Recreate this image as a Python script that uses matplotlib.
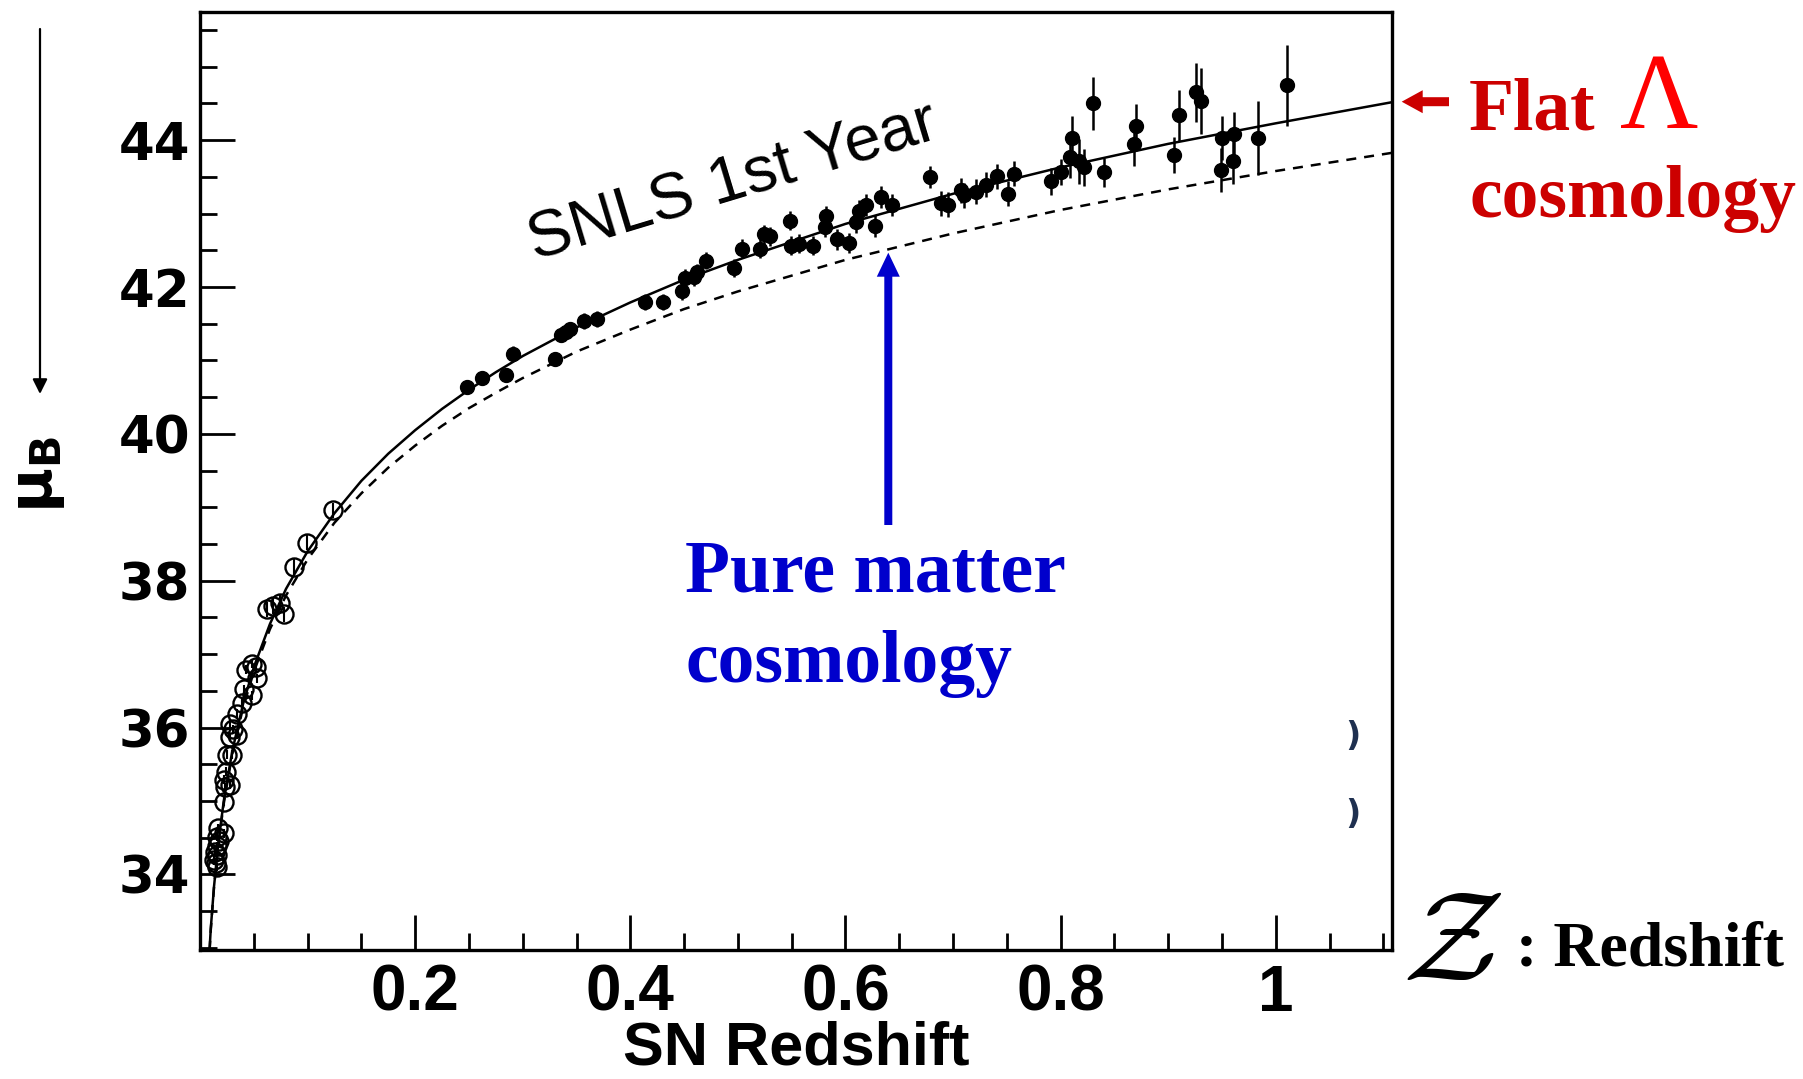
import matplotlib
matplotlib.use("Agg")
import matplotlib.pyplot as plt
from matplotlib.patches import FancyArrow
from matplotlib.ticker import MultipleLocator

# SNLS 1st year supernovae (filled points)
z_snls = [0.248, 0.262, 0.284, 0.291, 0.330, 0.336, 0.340, 0.344, 0.357, 0.369,
          0.414, 0.430, 0.448, 0.451, 0.459, 0.462, 0.470, 0.496, 0.504, 0.521,
          0.524, 0.530, 0.548, 0.549, 0.557, 0.570, 0.582, 0.581, 0.592, 0.603,
          0.610, 0.613, 0.619, 0.627, 0.633, 0.643, 0.679, 0.689, 0.695, 0.707,
          0.710, 0.721, 0.731, 0.741, 0.751, 0.757, 0.791, 0.800, 0.811, 0.809,
          0.817, 0.822, 0.830, 0.840, 0.868, 0.870, 0.905, 0.910, 0.926, 0.930,
          0.949, 0.950, 0.960, 0.961, 0.983, 1.010]
mu_snls = [40.64, 40.76, 40.80, 41.09, 41.02, 41.35, 41.39, 41.43, 41.54, 41.56,
           41.80, 41.80, 41.95, 42.12, 42.14, 42.20, 42.36, 42.26, 42.52, 42.52,
           42.72, 42.69, 42.90, 42.56, 42.59, 42.56, 42.97, 42.82, 42.65, 42.60,
           42.88, 43.04, 43.12, 42.83, 43.23, 43.12, 43.50, 43.14, 43.12, 43.32,
           43.25, 43.30, 43.39, 43.51, 43.27, 43.54, 43.44, 43.57, 44.03, 43.77,
           43.71, 43.63, 44.50, 43.56, 43.95, 44.19, 43.80, 44.34, 44.65, 44.53,
           43.60, 44.03, 43.71, 44.09, 44.03, 44.75]
err_snls = [0.10, 0.10, 0.10, 0.10, 0.10, 0.10, 0.10, 0.10, 0.11, 0.11,
            0.11, 0.11, 0.12, 0.12, 0.12, 0.12, 0.12, 0.12, 0.13, 0.13,
            0.13, 0.13, 0.13, 0.13, 0.13, 0.13, 0.14, 0.14, 0.14, 0.14,
            0.15, 0.15, 0.15, 0.15, 0.15, 0.15, 0.15, 0.17, 0.17, 0.17,
            0.17, 0.17, 0.17, 0.17, 0.17, 0.17, 0.18, 0.18, 0.30, 0.28,
            0.30, 0.25, 0.36, 0.20, 0.30, 0.30, 0.25, 0.35, 0.40, 0.45,
            0.30, 0.30, 0.30, 0.30, 0.50, 0.55]

# nearby supernovae (open circles)
z_near = [0.124, 0.099, 0.087, 0.062, 0.068, 0.074, 0.078, 0.048, 0.043, 0.052,
          0.053, 0.048, 0.039, 0.034, 0.028, 0.034, 0.028, 0.025, 0.030, 0.024,
          0.022, 0.028, 0.023, 0.022, 0.017, 0.022, 0.016, 0.016, 0.016, 0.015,
          0.016, 0.013, 0.014, 0.018, 0.041, 0.031]
mu_near = [38.96, 38.52, 38.19, 37.61, 37.65, 37.70, 37.54, 36.87, 36.79, 36.82,
           36.67, 36.44, 36.33, 36.19, 36.05, 35.90, 35.87, 35.63, 35.63, 35.40,
           35.29, 35.22, 35.19, 34.99, 34.63, 34.56, 34.51, 34.38, 34.26, 34.15,
           34.10, 34.19, 34.30, 34.45, 36.52, 35.98]
err_near = [0.10, 0.10, 0.10, 0.10, 0.10, 0.10, 0.10, 0.06, 0.06, 0.06,
            0.06, 0.06, 0.06, 0.06, 0.06, 0.06, 0.06, 0.06, 0.06, 0.06,
            0.06, 0.06, 0.06, 0.06, 0.06, 0.06, 0.06, 0.06, 0.06, 0.06,
            0.06, 0.06, 0.06, 0.06, 0.06, 0.06]

# the two model curves as they sit on the picture
z_model = [0.007, 0.010, 0.013, 0.017, 0.022, 0.030, 0.040, 0.050, 0.065, 0.080,
           0.100, 0.125, 0.150, 0.175, 0.200, 0.225, 0.250, 0.275, 0.300, 0.350,
           0.400, 0.450, 0.500, 0.600, 0.700, 0.800, 0.900, 1.000, 1.109]
mu_flat = [32.48, 33.26, 33.83, 34.42, 34.99, 35.68, 36.32, 36.82, 37.41, 37.89,
           38.40, 38.92, 39.36, 39.73, 40.05, 40.34, 40.60, 40.84, 41.06, 41.45,
           41.79, 42.10, 42.37, 42.86, 43.27, 43.63, 43.95, 44.23, 44.52]
mu_matter = [32.47, 33.24, 33.82, 34.40, 34.96, 35.64, 36.27, 36.76, 37.34, 37.80,
             38.29, 38.79, 39.19, 39.54, 39.84, 40.11, 40.35, 40.56, 40.76, 41.12,
             41.42, 41.70, 41.94, 42.37, 42.73, 43.05, 43.33, 43.58, 43.83]

x_ticks = [0.2, 0.4, 0.6, 0.8, 1.0]
x_labels = ["0.2", "0.4", "0.6", "0.8", "1"]
y_ticks = [34, 36, 38, 40, 42, 44]
y_labels = ["34", "36", "38", "40", "42", "44"]

W, H = 1803, 1079


def px(x, y):
    # pixel position (from top left) -> figure fraction
    return x / W, 1 - y / H


fig = plt.figure(figsize=(W / 100, H / 100), dpi=100)
ax = fig.add_axes([200 / W, 1 - 950 / H, 1192 / W, 938.3 / H])

ax.plot(z_model, mu_flat, color="black", lw=1.8, zorder=2)
ax.plot(z_model, mu_matter, color="black", lw=1.8, ls=(0, (4, 3.2)), zorder=2)
ax.errorbar(z_near, mu_near, yerr=err_near, fmt="o", mfc="none", mec="black",
            ecolor="black", ms=13, mew=1.7, elinewidth=1.5, capsize=0, zorder=3)
ax.errorbar(z_snls, mu_snls, yerr=err_snls, fmt="o", color="black", ms=10,
            elinewidth=1.8, capsize=0, zorder=3)

ax.set_xlim(0, 1.108)
ax.set_ylim(32.97, 45.75)

for s in ax.spines.values():
    s.set_linewidth(2.4)
ax.set_xticks(x_ticks, x_labels, fontsize=46, fontweight="bold",
              family="Liberation Sans")
ax.set_yticks(y_ticks, y_labels, fontsize=37, fontweight="bold",
              family="DejaVu Sans")
ax.xaxis.set_minor_locator(MultipleLocator(0.05))
ax.yaxis.set_minor_locator(MultipleLocator(0.5))
ax.tick_params(which="both", direction="in", top=False, right=False, width=2.0)
ax.tick_params(which="major", length=25)
ax.tick_params(which="minor", length=12.5)
ax.tick_params(axis="x", pad=10)
ax.tick_params(axis="y", pad=7)

ax.set_xlabel("SN Redshift", fontsize=44, fontweight="bold",
              family="Liberation Sans")
ax.xaxis.set_label_coords(0.5, -0.1225)
ax.xaxis.label.set_va("baseline")

ax.set_ylabel(r"$\mathbf{\mu}_\mathbf{B}$", fontsize=44, va="center", ha="center")
ax.yaxis.set_label_coords(-0.136, 0.507)

ax.text(0.500, 43.20, "SNLS 1st Year", rotation=16.8, rotation_mode="anchor",
        ha="center", va="baseline", fontsize=47, family="Liberation Sans")

# arrow above the y label
ax.annotate("", xy=px(40, 394), xytext=px(40, 29), xycoords="figure fraction",
            textcoords="figure fraction", annotation_clip=False,
            arrowprops=dict(arrowstyle="-|>", lw=1.6, color="black",
                            mutation_scale=22, shrinkA=0, shrinkB=0))

# Flat Lambda label
red = "#CC0000"
fig.add_artist(FancyArrow(1449 / W, 1 - 101.7 / H, -(1449 - 1401.7) / W, 0,
                          width=9 / H, head_width=23 / H, head_length=21 / W,
                          length_includes_head=True, color=red, lw=0,
                          transform=fig.transFigure))
fig.text(*px(1469, 129), "Flat", fontsize=53, fontweight="bold",
         family="Liberation Serif", color=red, ha="left", va="baseline")
fig.text(*px(1620, 128), "Λ", fontsize=78, family="Liberation Serif",
         color="#FF0000", ha="left", va="baseline")
fig.text(*px(1469, 217), "cosmology", fontsize=53, fontweight="bold",
         family="Liberation Serif", color=red, ha="left", va="baseline")

# pure matter label
blue = "#0000CC"
fig.add_artist(FancyArrow(888.3 / W, 1 - 525 / H, 0, (525 - 252.7) / H,
                          width=8 / W, head_width=23 / W, head_length=24 / H,
                          length_includes_head=True, color=blue, lw=0,
                          transform=fig.transFigure))
fig.text(*px(685, 591.7), "Pure matter", fontsize=53, fontweight="bold",
         family="Liberation Serif", color=blue, ha="left", va="baseline")
fig.text(*px(685, 681.7), "cosmology", fontsize=53, fontweight="bold",
         family="Liberation Serif", color=blue, ha="left", va="baseline")

# z : Redshift
fig.text(*px(1402, 945), r"$\mathcal{Z}$", math_fontfamily="cm", fontsize=92,
         ha="left", va="center")
fig.text(*px(1516, 965), ": Redshift", fontsize=46, fontweight="bold",
         family="Liberation Serif", ha="left", va="baseline")

# two small stray marks inside the frame
for yy in (736, 815):
    fig.text(*px(1353, yy), ")", fontsize=24, fontweight="bold",
             color="#1f3050", ha="center", va="center")

fig.savefig("out.png", dpi=100)
